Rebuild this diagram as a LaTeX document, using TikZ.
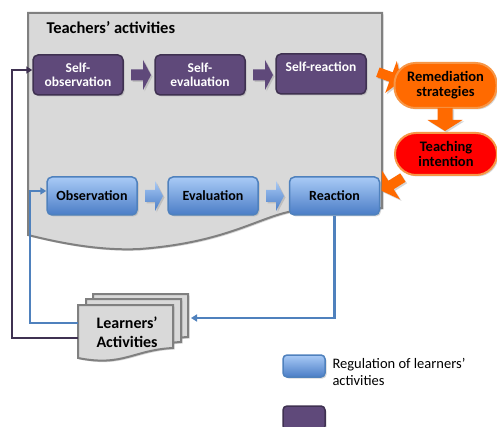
\documentclass[tikz,border=0pt]{standalone}
\usepackage{fontspec}
\setmainfont{Carlito}
\usetikzlibrary{arrows.meta}
\usetikzlibrary{shadows}
\definecolor{plum}{HTML}{5F497A}
\definecolor{plumdark}{HTML}{3F3151}
\definecolor{steel}{HTML}{4F81BD}
\definecolor{skylite}{HTML}{A9CAF6}
\definecolor{skydeep}{HTML}{4A7DC6}
\definecolor{panel}{HTML}{D9D9D9}
\definecolor{rim}{HTML}{808080}
\definecolor{flame}{HTML}{FF6A00}
\definecolor{flamerim}{HTML}{F79646}
\definecolor{hotred}{HTML}{FF0000}

\begin{document}
\begin{tikzpicture}[x=1pt,y=-1pt,
	softshadow/.style={drop shadow={shadow xshift=1.5pt,shadow yshift=-1.5pt,opacity=0.35,fill=black!45}},
	plumbox/.style={rectangle,rounded corners=5pt,draw=plumdark,fill=plum,line width=1.5pt,minimum width=90pt,minimum height=40pt,text=white,align=center,font=\bfseries\fontsize{13.5}{13.5}\selectfont,softshadow},
	bluebox/.style={rectangle,rounded corners=5pt,draw=steel,top color=skylite,bottom color=skydeep,line width=1.5pt,minimum width=90pt,minimum height=38pt,align=center,font=\bfseries\fontsize{14}{15}\selectfont,softshadow},
	pillbox/.style={rectangle,rounded corners=21pt,draw=flamerim,line width=2pt,minimum width=102pt,align=center,font=\bfseries\fontsize{14.5}{15}\selectfont,softshadow},
	plumarrow/.style={fill=plum,softshadow},
	bluearrow/.style={top color=skylite,bottom color=skydeep,softshadow},
	fatarrow/.style={fill=flame,softshadow},
	docsheet/.style={draw=rim,fill=panel,line width=2pt,softshadow},
	bluewire/.style={draw=steel,line width=2.5pt,-{Triangle[length=6pt,width=7pt]}},
	plumwire/.style={draw=plumdark,line width=2.5pt,-{Triangle[length=6pt,width=7pt]}}]
	\useasboundingbox[fill=white] (0,0) rectangle (497,427);

	% teachers' panel with wavy lower edge
	\draw[draw=rim,fill=panel,line width=2pt,softshadow] (28,13) -- (382,13) -- (382,208) -- (300,210)
		.. controls (262,214) and (232,242) .. (140,249) .. controls (100,251) and (60,243) .. (28,235) -- cycle;
	\node[anchor=west,font=\bfseries\fontsize{16.5}{18}\selectfont] (panel) at (43,28) {Teachers' activities};

	% top row
	\node[plumbox] (selfobs) at (78,75) {Self-\\observation};
	\node[plumbox] (selfeval) at (200,75) {Self-\\evaluation};
	\node[plumbox] (selfreact) at (321,74) {Self-reaction\\\mbox{}};
	\foreach \ax in {143,265}
		\fill[plumarrow,shift={(\ax,75)}] (-12,-5.5) -- (0,-5.5) -- (0,-15) -- (8,0) -- (0,15) -- (0,5.5) -- (-12,5.5) -- cycle;

	% bottom row
	\node[bluebox] (obs) at (92,196) {Observation};
	\node[bluebox] (eval) at (213,196) {Evaluation};
	\node[bluebox] (react) at (334.5,196) {Reaction};
	\foreach \ax in {155,276}
		\shade[bluearrow,shift={(\ax,196)}] (-10,-6) -- (0,-6) -- (0,-15) -- (8,0) -- (0,15) -- (0,6) -- (-10,6) -- cycle;

	% remediation loop
	\fill[fatarrow,shift={(391,77)},rotate=-20] (-14,-5) -- (0,-5) -- (0,-17) -- (11,0) -- (0,17) -- (0,5) -- (-14,5) -- cycle;
	\fill[fatarrow,shift={(391,185)},rotate=212] (-14,-5) -- (0,-5) -- (0,-17) -- (11,0) -- (0,17) -- (0,5) -- (-14,5) -- cycle;
	\node[pillbox,fill=flame,minimum height=45pt] (remed) at (445.5,85.5) {Remediation\\strategies};
	\node[pillbox,fill=hotred,minimum height=42pt] (intent) at (446,154) {Teaching\\intention};
	\fill[fatarrow,shift={(445,120)},rotate=-90] (-12,-7.5) -- (0,-7.5) -- (0,-17.5) -- (11,0) -- (0,17.5) -- (0,7.5) -- (-12,7.5) -- cycle;

	% learners' activities stack
	\foreach \dx/\dy in {93/294,86/299,78/305}
		\draw[docsheet,shift={(\dx,\dy)}] (0,0) -- (95,0) -- (95,43) .. controls (55,45) and (45,62) .. (0,53) -- cycle;
	\node[anchor=west,align=left,font=\bfseries\fontsize{16}{19}\selectfont] (learners) at (93,332) {Learners'\\Activities};
	\coordinate (docin) at (191,318);
	\coordinate (docout) at (78,323);
	\coordinate (docback) at (78,338);

	% feedback wires
	\draw[bluewire] (react.south) |- (docin);
	\draw[bluewire] (docout) -- ++(-48,0) |- ([yshift=5pt]obs.west);
	\draw[plumwire] (docback) -- ++(-66,0) |- ([yshift=5pt]selfobs.west);

	% key
	\node[bluebox,minimum width=42pt,minimum height=22pt,rounded corners=4pt] (keyblue) at (304,366) {};
	\node[anchor=west,align=left,font=\fontsize{14.5}{17}\selectfont] (keytext) at (329,371.5) {Regulation of learners'\\activities};
	\node[plumbox,minimum width=42pt,minimum height=24pt,rounded corners=4pt] (keyplum) at (304,418) {};
\end{tikzpicture}
\end{document}
